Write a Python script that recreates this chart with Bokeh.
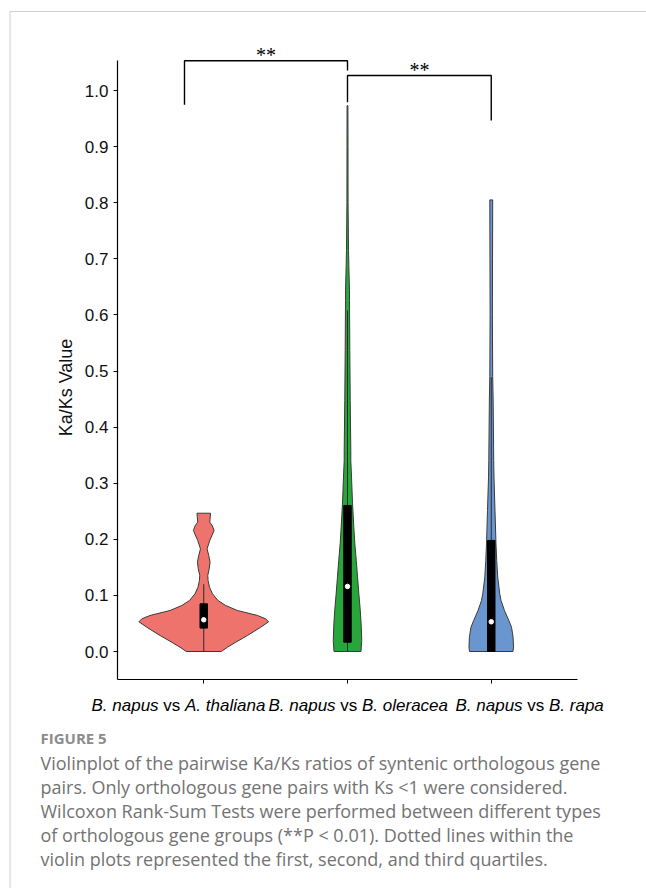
import math
from bokeh.plotting import figure
from bokeh.models import Range1d, FixedTicker, PrintfTickFormatter, LinearAxis
from bokeh.embed import file_html
from bokeh.resources import INLINE
from bokeh.core.properties import value

# ---------------- data ----------------
categories = ["B. napus vs A. thaliana", "B. napus vs B. oleracea", "B. napus vs B. rapa"]
positions = [1, 2, 3]
colors = ["#EE736C", "#27A63A", "#6A96D0"]

# violin outlines: Ka/Ks value and half width (x data units)
thaliana_y = [0.0, 0.0077, 0.0166, 0.0285, 0.0434, 0.0529, 0.0582, 0.0642, 0.0731, 0.082,
              0.0909, 0.1028, 0.1146, 0.1266, 0.1355, 0.1474, 0.1592, 0.171, 0.183, 0.198,
              0.2157, 0.2246, 0.2305, 0.2394, 0.2465]
thaliana_w = [0.122, 0.165, 0.223, 0.304, 0.397, 0.451, 0.431, 0.374, 0.234, 0.153,
              0.099, 0.061, 0.040, 0.030, 0.028, 0.038, 0.044, 0.035, 0.023, 0.042,
              0.072, 0.059, 0.042, 0.045, 0.047]

oleracea_y = [0.0, 0.0196, 0.0434, 0.0731, 0.1028, 0.1325, 0.1622, 0.1919, 0.2216, 0.2632,
              0.3107, 0.3405, 0.3583, 0.4474, 0.5365, 0.6257, 0.643, 0.68, 0.715, 0.80,
              0.90, 0.973]
oleracea_w = [0.094, 0.099, 0.096, 0.089, 0.079, 0.070, 0.061, 0.051, 0.044, 0.035,
              0.028, 0.023, 0.023, 0.019, 0.016, 0.014, 0.014, 0.010, 0.007, 0.004,
              0.0035, 0.003]

rapa_y = [0.0, 0.0077, 0.0255, 0.0434, 0.0553, 0.0731, 0.0909, 0.1028, 0.1325, 0.1622,
          0.1919, 0.2513, 0.3107, 0.3405, 0.40, 0.45, 0.49, 0.60, 0.70, 0.805]
rapa_w = [0.151, 0.155, 0.152, 0.141, 0.122, 0.092, 0.068, 0.059, 0.045, 0.038,
          0.033, 0.026, 0.019, 0.017, 0.015, 0.013, 0.010, 0.008, 0.009, 0.010]

# inner box plot statistics
whisker_low = [0.0, 0.0, 0.0]
whisker_high = [0.12, 0.608, 0.489]
q1 = [0.0417, 0.0166, 0.0]
q3 = [0.085, 0.2603, 0.198]
median = [0.0565, 0.116, 0.053]

# significance brackets
bracket_x = [[0.866, 0.866, 2, 2], [2, 2, 3, 3]]
bracket_y = [[0.9745, 1.0529, 1.0529, 1.0357], [0.979, 1.0267, 1.0267, 0.9465]]
bracket_text = ["**", "**"]

y_ticks = [0.0, 0.1, 0.2, 0.3, 0.4, 0.5, 0.6, 0.7, 0.8, 0.9, 1.0]
y_axis_bounds = (-0.05, 1.0529)
x_axis_bounds = (0.4, 3.6)
y_title = "Ka/Ks Value"

caption_title = "FIGURE 5"
caption_lines = [
    "Violinplot of the pairwise Ka/Ks ratios of syntenic orthologous gene",
    "pairs. Only orthologous gene pairs with Ks <1 were considered.",
    "Wilcoxon Rank-Sum Tests were performed between different types",
    "of orthologous gene groups (**P < 0.01). Dotted lines within the",
    "violin plots represented the first, second, and third quartiles.",
]
label_parts = [
    [("B. napus", "italic"), ("vs", "normal"), ("A. thaliana", "italic")],
    [("B. napus", "italic"), ("vs", "normal"), ("B. oleracea", "italic")],
    [("B. napus", "italic"), ("vs", "normal"), ("B. rapa", "italic")],
]

# ---------------- layout geometry ----------------
W, H = 646, 888
PX_X = 143.75          # pixels per x unit
PX_Y = 561.0           # pixels per Ka/Ks unit
AXIS_LEFT_PX = 117     # page x of the y axis (x = 0.4)
ZERO_PX = 651          # page y of Ka/Ks = 0
X_START = x_axis_bounds[0] - AXIS_LEFT_PX / PX_X
X_END = X_START + W / PX_X
Y_END = ZERO_PX / PX_Y
Y_START = Y_END - H / PX_Y

def px_x(px):
    return X_START + px / PX_X

def py_y(py):
    return Y_END - py / PX_Y

p = figure(width=W, height=H, output_backend="svg", toolbar_location=None,
           x_range=Range1d(X_START, X_END), y_range=Range1d(Y_START, Y_END),
           x_axis_location=None, y_axis_location=None,
           min_border=0, min_border_left=0, min_border_right=0,
           min_border_top=0, min_border_bottom=0)
p.outline_line_color = None
p.grid.visible = False
p.background_fill_color = "white"
p.border_fill_color = "white"

# axes drawn by the library at fixed locations
yaxis = LinearAxis(fixed_location=x_axis_bounds[0], bounds=y_axis_bounds,
                   ticker=FixedTicker(ticks=y_ticks),
                   formatter=PrintfTickFormatter(format="%.1f"))
yaxis.major_label_text_font = "Liberation Sans"
yaxis.major_label_text_font_size = "17px"
yaxis.major_label_text_color = "#111111"
yaxis.major_label_standoff = 5
xaxis = LinearAxis(fixed_location=y_axis_bounds[0], bounds=x_axis_bounds,
                   ticker=FixedTicker(ticks=positions),
                   major_label_overrides={1: "", 2: "", 3: ""})
for ax in (xaxis, yaxis):
    ax.axis_line_color = "black"
    ax.axis_line_width = 1.2
    ax.major_tick_line_color = "black"
    ax.major_tick_out = 4
    ax.major_tick_in = 0
    ax.minor_tick_line_color = None
p.add_layout(yaxis, "left")
p.add_layout(xaxis, "below")

# y axis title
p.text(x=[px_x(65)], y=[py_y(387)], text=[y_title], angle=math.pi / 2,
       text_align="center", text_baseline="middle",
       text_font=value("Liberation Sans"), text_font_size="18px", text_color="#111111")

# violins
for pos, col, ys, ws in zip(positions, colors,
                            [thaliana_y, oleracea_y, rapa_y],
                            [thaliana_w, oleracea_w, rapa_w]):
    xs = [pos + w for w in ws] + [pos - w for w in reversed(ws)]
    yy = list(ys) + list(reversed(ys))
    p.patch(xs, yy, fill_color=col, line_color="#3a3a3a", line_width=1)

# inner box plots
p.segment(x0=positions, y0=whisker_low, x1=positions, y1=whisker_high,
          line_color="#2a2a2a", line_width=1)
p.vbar(x=positions, bottom=q1, top=q3, width=0.052, fill_color="black", line_color="black")
p.scatter(x=positions, y=median, size=4.5, marker="circle", fill_color="white", line_color="white")

# significance brackets
p.multi_line(xs=bracket_x, ys=bracket_y, line_color="black", line_width=1.4)
p.text(x=[(bx[0] + bx[-1]) / 2 for bx in bracket_x], y=[by[1] for by in bracket_y],
       text=bracket_text, text_align="center", text_baseline="alphabetic", y_offset=-6,
       text_font=value("Liberation Serif"), text_font_size="20px", text_color="black")

# category labels with italic species names
part_offsets = [0, 71.8, 93.5]
label_starts = [91, 268, 455]
for style in ("italic", "normal"):
    lx, ly, lt = [], [], []
    for start, parts in zip(label_starts, label_parts):
        for (txt, st), off in zip(parts, part_offsets):
            if st == style:
                lx.append(px_x(start + off))
                ly.append(py_y(705))
                lt.append(txt)
    p.text(x=lx, y=ly, text=lt, text_align="left", text_baseline="alphabetic",
           text_font=value("Liberation Sans"), text_font_style=style,
           text_font_size="17px", text_color="black")

# caption
p.text(x=[px_x(40)], y=[py_y(737)], text=[caption_title], text_align="left",
       text_baseline="middle", text_font=value("Open Sans"), text_font_style="bold",
       text_font_size="15px", text_color="#8c8c8c")
p.text(x=[px_x(40)] * len(caption_lines),
       y=[py_y(762 + 24 * i) for i in range(len(caption_lines))],
       text=caption_lines, text_align="left", text_baseline="middle",
       text_font=value("Open Sans"), text_font_size="18px", text_color="#737373")

# page border (top and left)
p.segment(x0=[px_x(9.5), px_x(9.5)], y0=[py_y(11), py_y(11)],
          x1=[px_x(W), px_x(9.5)], y1=[py_y(11), py_y(H)],
          line_color="#d0d0d0", line_width=1)

open("out.html", "w").write(file_html(p, INLINE))
